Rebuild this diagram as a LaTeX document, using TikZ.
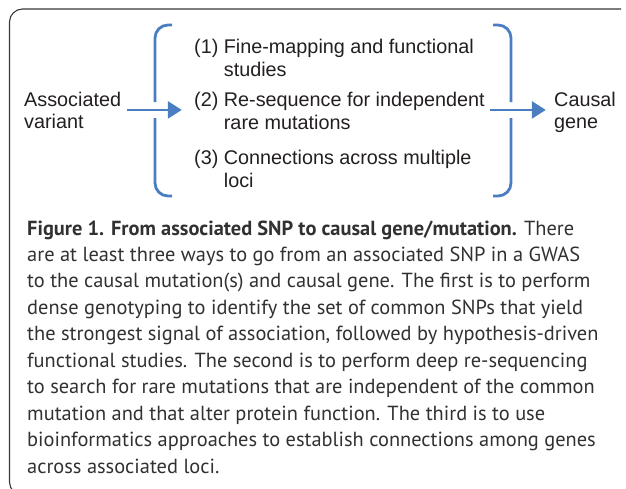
\documentclass[tikz,border=0pt]{standalone}
\usepackage{fontspec}
\setmainfont{Liberation Sans}
\newfontfamily\capfont{PT Sans}
\usetikzlibrary{arrows.meta,fit}
\definecolor{bblue}{RGB}{74,126,192}
\definecolor{txt}{RGB}{35,31,32}
\definecolor{captxt}{RGB}{50,48,49}
\begin{document}
\begin{tikzpicture}[x=1pt,y=-1pt,
  dtext/.style={font=\fontsize{19.8}{23}\selectfont, text=txt, inner sep=0pt, anchor=base west},
  captext/.style={font=\capfont\fontsize{20.4}{26.4}\selectfont, text=captxt, inner sep=0pt, anchor=base west},
  group/.style={inner sep=0pt},
  bracket/.style={draw=bblue, line width=2.8pt, rounded corners=13pt},
  arrowline/.style={draw=bblue, line width=2.8pt, -{Triangle[length=14pt,width=17pt]}},
  frame/.style={draw=black!78, line width=1.1pt, rounded corners=13pt}]
\useasboundingbox (0,0) rectangle (626,488);
\begin{scope}
\clip (0,0) rectangle (626,488);
\draw[frame] (621,9) -- (9.5,9) -- (9.5,495) -- (60,495);
\end{scope}

% diagram texts
\node[dtext] (assoc1) at (24,106) {Associated};
\node[dtext] (assoc2) at (24,128) {variant};
\node[group, fit=(assoc1)(assoc2)] (assoc) {};

\node[dtext] (item1a) at (194,53) {(1) Fine-mapping and functional};
\node[dtext] (item1b) at (194,76) {\hphantom{(1) }studies};
\node[dtext] (item2a) at (194,106) {(2) Re-sequence for independent};
\node[dtext] (item2b) at (194,129) {\hphantom{(2) }rare mutations};
\node[group, fit=(item2a)(item2b)] (item2) {};
\node[dtext] (item3a) at (194,164) {(3) Connections across multiple};
\node[dtext] (item3b) at (194,187) {\hphantom{(3) }loci};

\node[dtext] (causal1) at (554,106) {Causal};
\node[dtext] (causal2) at (554,128) {gene};
\node[group, fit=(causal1)(causal2)] (causal) {};

% brackets
\draw[bracket] (172,25) -- (155,25) -- (155,102);
\draw[bracket] (155,118) -- (155,196) -- (172,196);
\draw[bracket] (493,25) -- (511,25) -- (511,102);
\draw[bracket] (511,118) -- (511,196) -- (493,196);

% arrows
\draw[arrowline, shorten <=6pt, shorten >=12pt] (assoc.east) -- (assoc.east -| item2.west);
\draw[arrowline, shorten <=5pt, shorten >=8pt] (assoc.east -| item2.east) -- (assoc.east -| causal.west);

% caption
\node[captext] (c1) at (27,235) {\textbf{Figure 1. From associated SNP to causal gene/mutation.} There};
\node[captext] (c2) at (27,261.4) {are at least three ways to go from an associated SNP in a GWAS};
\node[captext] (c3) at (27,287.9) {to the causal mutation(s) and causal gene. The first is to perform};
\node[captext] (c4) at (27,314.3) {dense genotyping to identify the set of common SNPs that yield};
\node[captext] (c5) at (27,340.8) {the strongest signal of association, followed by hypothesis-driven};
\node[captext] (c6) at (27,367.2) {functional studies. The second is to perform deep re-sequencing};
\node[captext] (c7) at (27,393.6) {to search for rare mutations that are independent of the common};
\node[captext] (c8) at (27,420) {mutation and that alter protein function. The third is to use};
\node[captext] (c9) at (27,446.5) {bioinformatics approaches to establish connections among genes};
\node[captext] (c10) at (27,473) {across associated loci.};
\end{tikzpicture}
\end{document}
